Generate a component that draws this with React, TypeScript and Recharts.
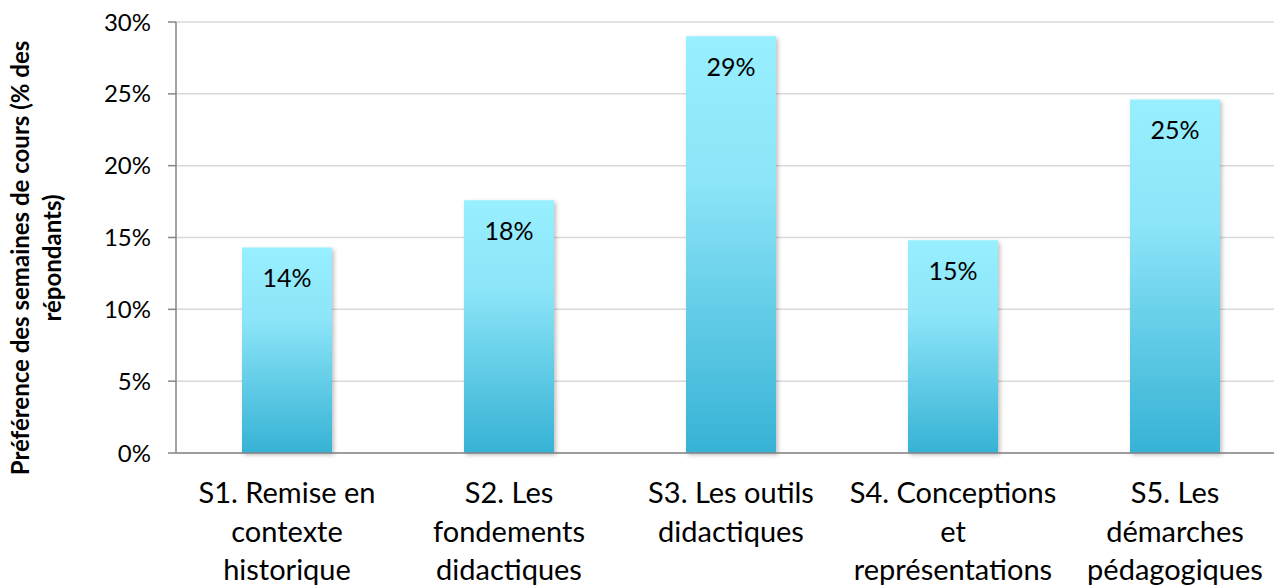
import React from 'react';
import { BarChart, Bar, XAxis, YAxis, CartesianGrid, LabelList } from 'recharts';

// Préférence des semaines de cours (% des répondants)
const weeks = ['S1', 'S2', 'S3', 'S4', 'S5'];
const weekLabels = [
  ['S1. Remise en', 'contexte', 'historique'],
  ['S2. Les', 'fondements', 'didactiques'],
  ['S3. Les outils', 'didactiques'],
  ['S4. Conceptions', 'et', 'représentations'],
  ['S5. Les', 'démarches', 'pédagogiques'],
];
const preference = [14.3, 17.6, 29.0, 14.8, 24.6];
const yTicks = [0, 5, 10, 15, 20, 25, 30];
const edgeTicks = [0, 1, 2, 3, 4, 5];

const FONT = 'Lato, "Open Sans", sans-serif';
const AXIS = '#868686';
const LINE_DY = [50, 39, 38];

const chartData = weeks.map((w, i) => ({ week: w, value: preference[i] }));

const WeekTick = (props: any) => {
  const { x, y, payload } = props;
  const lines = weekLabels[payload.index] || [];
  return (
    <text x={x} y={y} textAnchor="middle" fill="#000" fontSize={29} fontFamily={FONT}>
      {lines.map((line, i) => (
        <tspan key={i} x={x} dy={LINE_DY[i]}>
          {line}
        </tspan>
      ))}
    </text>
  );
};

const YTitle = () => (
  <text
    x={29}
    y={258}
    transform="rotate(-90, 29, 258)"
    textAnchor="middle"
    fill="#000"
    fontSize={24}
    fontWeight={700}
    fontFamily={FONT}
  >
    <tspan x={29} dy={0}>Préférence des semaines de cours (% des</tspan>
    <tspan x={29} dy={32}>répondants)</tspan>
  </text>
);

const App: React.FC = () => {
  return (
    <div style={{ position: 'absolute', left: 0, top: 0, width: 1274, height: 586, overflow: 'hidden', background: '#fff' }}>
      <BarChart
        width={1300}
        height={586}
        data={chartData}
        margin={{ top: 22, right: 14, left: 0, bottom: 0 }}
        barSize={90}
      >
        <defs>
          <linearGradient id="barFill" x1="0" y1="0" x2="0" y2="1">
            <stop offset="0%" stopColor="#97EFFF" />
            <stop offset="35%" stopColor="#8CE5F8" />
            <stop offset="100%" stopColor="#36B2D5" />
          </linearGradient>
          <filter id="barShadow" x="-10%" y="-5%" width="125%" height="115%">
            <feDropShadow dx="2" dy="2" stdDeviation="2" floodColor="#000" floodOpacity="0.25" />
          </filter>
        </defs>
        <CartesianGrid vertical={false} stroke="#D9D9D9" strokeWidth={1.5} />
        <XAxis
          xAxisId="edge"
          type="number"
          domain={[0, 5]}
          ticks={edgeTicks}
          allowDataOverflow
          axisLine={false}
          tick={false}
          tickLine={{ stroke: AXIS, strokeWidth: 1.5 }}
          tickSize={8}
          height={0}
        />
        <XAxis
          dataKey="week"
          axisLine={{ stroke: AXIS, strokeWidth: 1.5 }}
          tickLine={false}
          tickSize={0}
          tickMargin={0}
          interval={0}
          height={133}
          tick={<WeekTick />}
        />
        <YAxis
          domain={[0, 30]}
          ticks={yTicks}
          width={176}
          tickFormatter={(v) => `${v}%`}
          axisLine={{ stroke: AXIS, strokeWidth: 1.5 }}
          tickLine={{ stroke: AXIS, strokeWidth: 1.5 }}
          tickSize={8}
          tickMargin={17}
          tick={{ fill: '#000', fontSize: 24, fontFamily: FONT }}
          label={{ content: () => <YTitle /> }}
        />
        <Bar dataKey="value" fill="url(#barFill)" filter="url(#barShadow)" isAnimationActive={false}>
          <LabelList
            dataKey="value"
            position="insideTop"
            offset={22}
            formatter={(v: any) => `${Math.round(Number(v))}%`}
            fill="#000"
            fontSize={25}
            fontFamily={FONT}
          />
        </Bar>
      </BarChart>
    </div>
  );
};

export default App;
